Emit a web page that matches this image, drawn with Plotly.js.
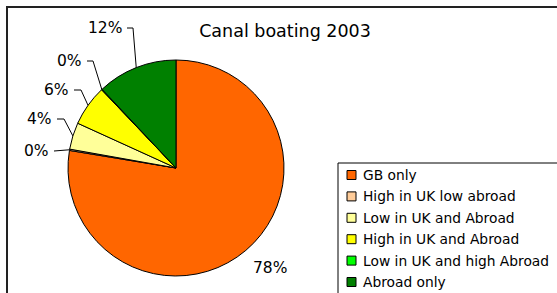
<!DOCTYPE html>
<html><head><meta charset="utf-8">
<script src="https://cdn.plot.ly/plotly-3.0.1.min.js"></script>
<style>html,body{margin:0;padding:0;background:#fff}#chart{width:557px;height:293px}</style>
</head><body><div id="chart"></div>
<script>
const categories = ["GB only","High in UK low abroad","Low in UK and Abroad","High in UK and Abroad","Low in UK and high Abroad","Abroad only"];
const values = [77.6, 0.2, 4.0, 6.1, 0.1, 12.0];
const colors = ["#FF6600","#FFCC99","#FFFF99","#FFFF00","#00FF00","#008000"];
const chartTitle = "Canal boating 2003";

const W = 557, H = 293;
const cx = 176, cy = 168, R = 108;
const labelPlace = [
  {x: 270, y: 268, line: false, anchor: "center"},
  {x: 51, y: 151, line: true, stub: 0},
  {x: 54, y: 119, line: true, stub: 7},
  {x: 71, y: 90, line: true, stub: 7},
  {x: 84, y: 61, line: true, stub: 6},
  {x: 124, y: 28, line: true, stub: 6}
];
const px = x => x / W, py = y => 1 - y / H;

const total = values.reduce((a,b)=>a+b,0);
let cum = 0;
const annotations = [], shapes = [];
values.forEach((v,i)=>{
  const mid = (cum + v/2) / total * 2 * Math.PI;
  cum += v;
  const ex = cx + R*Math.sin(mid), ey = cy - R*Math.cos(mid);
  const lp = labelPlace[i];
  const pct = Math.round(v/total*100) + "%";
  annotations.push({xref:"paper", yref:"paper", x: px(lp.x), y: py(lp.y), text: pct, showarrow:false,
    xanchor: lp.anchor || "right", yanchor:"middle", font:{family:"DejaVu Sans", size:15.5, color:"#000"}});
  if (lp.line) {
    const sx = lp.x + 3, elx = sx + lp.stub;
    const path = `M${px(sx)},${py(lp.y)} L${px(elx)},${py(lp.y)} L${px(ex)},${py(ey)}`;
    shapes.push({type:"path", xref:"paper", yref:"paper", path, line:{color:"#000", width:1}});
  }
});
// outer frame
shapes.push({type:"rect", xref:"paper", yref:"paper", x0: px(7), y0: py(7), x1: 1.2, y1: -0.2, line:{color:"#222", width:2}, layer:"below"});

// legend box (drawn by hand to match the original spacing)
const legLeft = 338, legTop = 163, rowH = 21.4, firstRow = 175;
shapes.push({type:"rect", xref:"paper", yref:"paper", x0: px(legLeft), y0: py(legTop), x1: 1.2, y1: -0.2,
  line:{color:"#000", width:1}, fillcolor:"#fff", layer:"below"});
categories.forEach((c,i)=>{
  const yc = firstRow + i*rowH;
  shapes.push({type:"rect", xref:"paper", yref:"paper", x0: px(347), x1: px(356), y0: py(yc-4.5), y1: py(yc+4.5),
    fillcolor: colors[i], line:{color:"#000", width:1}});
  annotations.push({xref:"paper", yref:"paper", x: px(361), y: py(yc), text: c, showarrow:false,
    xanchor:"left", yanchor:"middle", font:{family:"DejaVu Sans", size:13.8, color:"#000"}});
});

const trace = {
  type:"pie", labels: categories, values: values, sort:false, direction:"clockwise", rotation:0,
  marker:{colors: colors, line:{color:"#000", width:1}}, textinfo:"none", hoverinfo:"none",
  domain:{x:[px(cx-R), px(cx+R)], y:[py(cy+R), py(cy-R)]}
};
const layout = {
  width:W, height:H, margin:{l:0,r:0,t:0,b:0}, paper_bgcolor:"#fff", plot_bgcolor:"#fff",
  title:{text: chartTitle, x: px(285), y: py(31), xanchor:"center", yanchor:"middle", xref:"paper", yref:"paper",
    font:{family:"DejaVu Sans", size:17.5, color:"#000"}},
  showlegend:false,
  annotations, shapes
};
Plotly.newPlot("chart", [trace], layout, {staticPlot:true, displayModeBar:false});
</script></body></html>
